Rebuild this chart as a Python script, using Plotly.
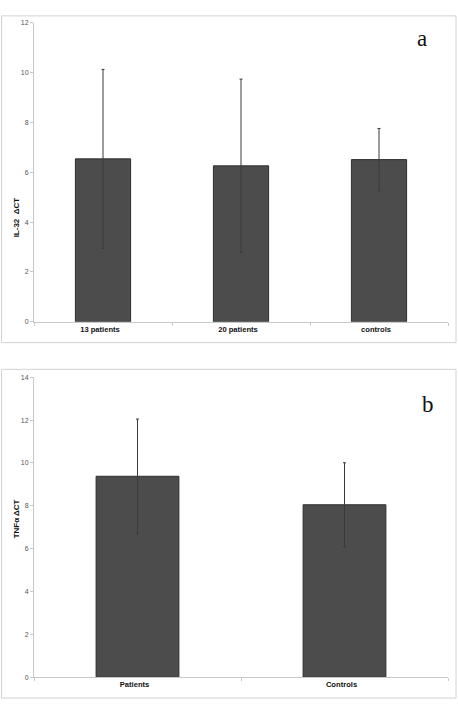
import plotly.graph_objects as go

# ---- data ----
categories_a = ["13 patients", "20 patients", "controls"]
il32_mean = [6.54, 6.26, 6.51]
il32_err = [3.59, 3.48, 1.25]

categories_b = ["Patients", "Controls"]
tnf_mean = [9.38, 8.05]
tnf_err = [2.67, 1.96]

yticks_a = [0, 2, 4, 6, 8, 10, 12]
yticks_b = [0, 2, 4, 6, 8, 10, 12, 14]

W, H = 458, 708
BAR = "#4c4c4c"
EDGE = "#2e2e2e"
AX = "#c8c8c8"

def px(x):
    return x / W

def py(y):
    return 1 - y / H

fig = go.Figure()
fig.add_trace(go.Bar(
    x=categories_a, y=il32_mean, width=0.4,
    marker=dict(color=BAR, line=dict(color=EDGE, width=1)),
    error_y=dict(type="data", array=il32_err, color="#3a3a3a", thickness=1, width=1.5),
    xaxis="x", yaxis="y", showlegend=False,
))
fig.add_trace(go.Bar(
    x=categories_b, y=tnf_mean, width=0.4,
    marker=dict(color=BAR, line=dict(color=EDGE, width=1)),
    error_y=dict(type="data", array=tnf_err, color="#3a3a3a", thickness=1, width=1.5),
    xaxis="x2", yaxis="y2", showlegend=False,
))

xcommon = dict(
    showline=True, linecolor=AX, linewidth=1, ticks="outside", tickson="boundaries",
    ticklen=3, tickcolor=AX, showgrid=False, zeroline=False, fixedrange=True,
    tickfont=dict(family="Liberation Sans", size=7.6, color="#111", weight="bold"),
    ticklabelshift=-3,
)
ycommon = dict(
    showline=True, linecolor=AX, linewidth=1, ticks="outside", ticklen=3,
    tickcolor=AX, showgrid=False, zeroline=False, fixedrange=True,
    tickfont=dict(family="Liberation Sans", size=7, color="#555"),
)

fig.update_layout(
    width=W, height=H, margin=dict(l=0, r=0, t=0, b=0),
    paper_bgcolor="white", plot_bgcolor="white", bargap=0.6,
    xaxis=dict(domain=[px(34), px(448)], anchor="y", **xcommon),
    yaxis=dict(domain=[py(321), py(19)], anchor="x", range=[0, 12],
               tickvals=yticks_a, **ycommon),
    xaxis2=dict(domain=[px(34), px(448)], anchor="y2", **xcommon),
    yaxis2=dict(domain=[py(680), py(377)], anchor="x2", range=[0, 14],
                tickvals=yticks_b, **ycommon),
)

# panel frames
fig.add_shape(type="rect", xref="paper", yref="paper",
              x0=px(1.5), x1=px(456), y0=py(342), y1=py(12),
              line=dict(color="#d2d2d2", width=1), layer="below")
fig.add_shape(type="rect", xref="paper", yref="paper",
              x0=px(1.5), x1=px(456), y0=py(701), y1=py(369),
              line=dict(color="#d2d2d2", width=1), layer="below")

# y titles
fig.add_annotation(text="IL-32  ΔCT", xref="paper", yref="paper",
                   x=px(16.5), y=py(216), textangle=-90, showarrow=False,
                   xanchor="center", yanchor="middle",
                   font=dict(family="Liberation Sans", size=8, color="#111", weight="bold"))
fig.add_annotation(text="TNFα ΔCT", xref="paper", yref="paper",
                   x=px(16.5), y=py(520), textangle=-90, showarrow=False,
                   xanchor="center", yanchor="middle",
                   font=dict(family="Liberation Sans", size=8, color="#111", weight="bold"))

# panel letters
fig.add_annotation(text="a", xref="paper", yref="paper", x=px(422), y=py(35),
                   showarrow=False, xanchor="center", yanchor="middle",
                   font=dict(family="Liberation Serif", size=23, color="#111"))
fig.add_annotation(text="b", xref="paper", yref="paper", x=px(428), y=py(405),
                   showarrow=False, xanchor="center", yanchor="middle",
                   font=dict(family="Liberation Serif", size=23, color="#111"))

fig.write_html("out.html")
